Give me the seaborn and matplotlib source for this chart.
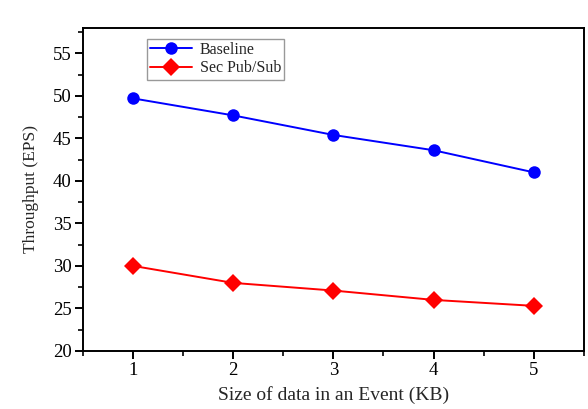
import pandas as pd
import numpy as np
import matplotlib
matplotlib.use('Agg')
import matplotlib.pyplot as plt
from matplotlib.ticker import MultipleLocator
import seaborn as sns

# data
sizes = [1, 2, 3, 4, 5]
baseline = [49.7, 47.7, 45.4, 43.6, 41.0]
sec_pubsub = [30.0, 28.0, 27.1, 26.0, 25.3]

df = pd.DataFrame({
    'size': sizes * 2,
    'eps': baseline + sec_pubsub,
    'scheme': ['Baseline'] * 5 + ['Sec Pub/Sub'] * 5,
})

sns.set_style('ticks')
plt.rcParams['font.family'] = ['Liberation Serif', 'DejaVu Serif']

fig = plt.figure(figsize=(5.88, 4.09), dpi=100)
ax = fig.add_axes([0.141, 0.142, 0.852, 0.79])

sns.lineplot(data=df, x='size', y='eps', hue='scheme', style='scheme',
             palette={'Baseline': '#0000ff', 'Sec Pub/Sub': '#ff0000'},
             markers={'Baseline': 'o', 'Sec Pub/Sub': 'D'},
             dashes=False, markersize=9, linewidth=1.4,
             markeredgewidth=0, ax=ax)

ax.set_xlim(0.5, 5.5)
ax.set_ylim(20, 58)
ax.xaxis.set_major_locator(MultipleLocator(1))
ax.xaxis.set_minor_locator(MultipleLocator(0.5))
ax.yaxis.set_major_locator(MultipleLocator(5))
ax.yaxis.set_minor_locator(MultipleLocator(2.5))
ax.tick_params(which='major', direction='out', length=6, width=1.4, labelsize=13.5,
               colors='black', pad=2)
ax.tick_params(which='minor', direction='out', length=3.5, width=1.4)
ax.tick_params(top=False, right=False)
for s in ax.spines.values():
    s.set_linewidth(1.4)
    s.set_color('black')

ax.set_xlabel('Size of data in an Event (KB)', fontsize=14, labelpad=5)
ax.set_ylabel('Throughput (EPS)', fontsize=12.5, labelpad=10)

leg = ax.legend(loc='upper left', bbox_to_anchor=(0.128, 0.966), fontsize=11.5,
                frameon=True, fancybox=False, edgecolor='#808080',
                handlelength=2.6, borderpad=0.2, labelspacing=0.15,
                handletextpad=0.5, borderaxespad=0)
leg.get_frame().set_linewidth(1.0)

fig.savefig('out.png', dpi=100)
